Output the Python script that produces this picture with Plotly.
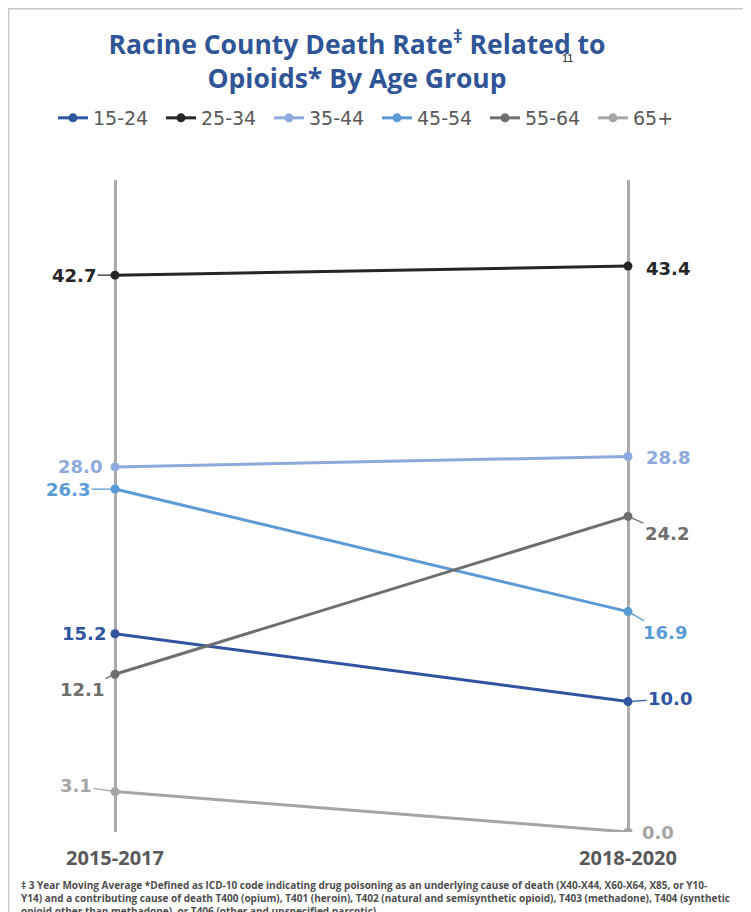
import plotly.graph_objects as go

# ---- data ----
periods = ["2015-2017", "2018-2020"]
age_groups = ["15-24", "25-34", "35-44", "45-54", "55-64", "65+"]
rate_15_24 = [15.2, 10.0]
rate_25_34 = [42.7, 43.4]
rate_35_44 = [28.0, 28.8]
rate_45_54 = [26.3, 16.9]
rate_55_64 = [12.1, 24.2]
rate_65_plus = [3.1, 0.0]
series_values = [rate_15_24, rate_25_34, rate_35_44, rate_45_54, rate_55_64, rate_65_plus]

# ---- styles ----
colors = ["#2F54A0", "#262626", "#8EA9DB", "#5B9BD5", "#6F6F6F", "#A5A5A5"]
# label offsets (px) : (ax, ay, leader) for left and right ends
left_off = [(-31, 0, False), (-41, 0, True), (-35, 0, False), (-47, 0, True), (-33, 15, True), (-39, -6, True)]
right_off = [(42, -3, True), (40, 2, False), (40, 1, False), (37, 21, True), (39, 17, True), (30, 0, False)]

OFF = 8  # page body margin
W, H = 751 - OFF, 912 - OFF
ML, MR = 15, 15
MT = 180 - OFF
MB = H - (832 - OFF)
plot_w = W - ML - MR
plot_h = H - MT - MB


def px_x(p):  # page pixel -> paper x
    return (p - OFF - ML) / plot_w


def px_y(p):  # page pixel -> paper y
    return (MT + plot_h - (p - OFF)) / plot_h


# x positions of the two category axes in page pixels
f0, f1 = px_x(115), px_x(628)
span = 1.0 / (f1 - f0)
xr = [-f0 * span, -f0 * span + span]

FONT = "Open Sans"
NUMFONT = "DejaVu Sans"
fig = go.Figure()
xidx = list(range(len(periods)))
for name, vals, c in zip(age_groups, series_values, colors):
    fig.add_trace(go.Scatter(
        x=xidx, y=vals, name=name, mode="lines+markers",
        line=dict(color=c, width=3), marker=dict(color=c, size=9),
        hoverinfo="skip"))

annotations = []
for vals, c, lo, ro in zip(series_values, colors, left_off, right_off):
    for xi, off in ((0, lo), (1, ro)):
        ax, ay, leader = off
        annotations.append(dict(
            x=xi, y=vals[xi], xref="x", yref="y", text=f"{vals[xi]:.1f}",
            showarrow=True, ax=ax, ay=ay, arrowhead=0, arrowwidth=1.3,
            arrowcolor=c if leader else "rgba(0,0,0,0)", standoff=3,
            font=dict(family=NUMFONT, size=18, color=c, weight="bold")))

# superscript footnote reference near the title
annotations.append(dict(xref="paper", yref="paper", x=px_x(575), y=px_y(58), yanchor="middle",
                        text="11", showarrow=False, font=dict(family="Liberation Sans", size=11, color="#222222")))
# footnote
foot = ("‡ 3 Year Moving Average *Defined as ICD-10 code indicating drug poisoning as an underlying cause of death (X40-X44, X60-X64, X85, or Y10-<br>"
        "Y14) and a contributing cause of death T400 (opium), T401 (heroin), T402 (natural and semisynthetic opioid), T403 (methadone), T404 (synthetic<br>"
        "opioid other than methadone), or T406 (other and unspecified narcotic).")
annotations.append(dict(xref="paper", yref="paper", x=px_x(19), y=px_y(876),
                        xanchor="left", yanchor="top", align="left", text=foot, showarrow=False,
                        font=dict(family=FONT, size=10.0, color="#4D4D4D", weight="bold")))

shapes = [dict(type="rect", xref="paper", yref="paper", x0=px_x(8.7), x1=px_x(744), y0=px_y(940), y1=px_y(8.7),
               line=dict(color="#C8C8C8", width=1.5), fillcolor="rgba(0,0,0,0)", layer="below")]

fig.update_layout(
    width=W, height=H, margin=dict(l=ML, r=MR, t=MT, b=MB),
    paper_bgcolor="white", plot_bgcolor="white",
    title=dict(text="Racine County Death Rate<sup>‡</sup> Related to<br>Opioids* By Age Group",
               xref="paper", x=px_x(357), xanchor="center", y=1 - (54 - OFF) / H, yanchor="top",
               font=dict(family=FONT, size=26.5, color="#2F5597", weight="bold")),
    legend=dict(orientation="h", x=px_x(377), xanchor="center", y=px_y(118), yanchor="middle",
                font=dict(family=NUMFONT, size=19, color="#595959"), itemwidth=30,
                entrywidth=63, entrywidthmode="pixels",
                bgcolor="rgba(0,0,0,0)"),
    xaxis=dict(range=xr, tickvals=xidx, ticktext=periods, showgrid=True, gridcolor="#ABABAB", gridwidth=3,
               zeroline=False, showline=False, ticks="", ticklabelstandoff=12,
               tickfont=dict(family=FONT, size=20, color="#595959", weight="bold"), fixedrange=True),
    yaxis=dict(range=[0, 50], visible=False, fixedrange=True),
    annotations=annotations, shapes=shapes, showlegend=True,
)
fig.write_html("out.html")
